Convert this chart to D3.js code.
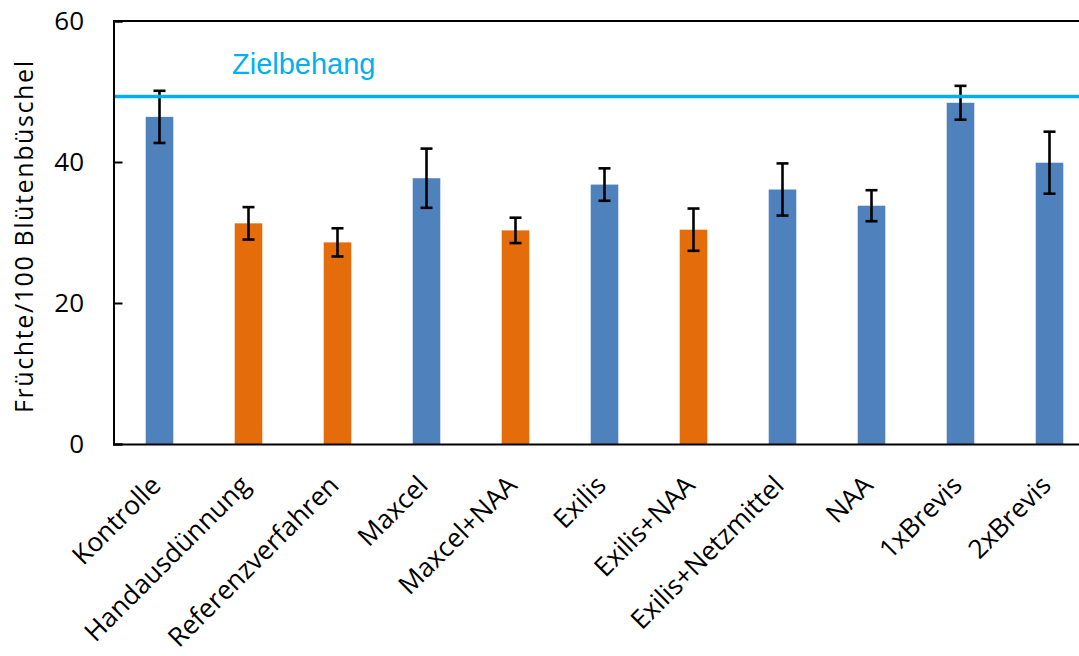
<!DOCTYPE html>
<html>
<head>
<meta charset="utf-8">
<script src="https://cdn.jsdelivr.net/npm/d3@7"></script>
<style>
body { margin: 0; background: #fff; }
</style>
</head>
<body>
<div id="chart"></div>
<script>
"use strict";

var categories = ["Kontrolle", "Handausdünnung", "Referenzverfahren", "Maxcel", "Maxcel+NAA",
	"Exilis", "Exilis+NAA", "Exilis+Netzmittel", "NAA", "1xBrevis", "2xBrevis"];
var means = [46.4, 31.3, 28.6, 37.7, 30.3, 36.8, 30.4, 36.1, 33.8, 48.4, 39.9];
var errors = [3.7, 2.3, 2.0, 4.2, 1.8, 2.3, 3.0, 3.7, 2.2, 2.4, 4.4];
var group = ["a", "b", "b", "a", "b", "a", "b", "a", "a", "a", "a"];
var yTicks = [0, 20, 40, 60];
var target = 49.3;
var targetLabel = "Zielbehang";
var yTitle = "Früchte/100 Blütenbüschel";

var width = 1079, height = 656;
var colors = { a: "#4f81bd", b: "#e46c0a" };

var svg = d3.select("#chart").append("svg")
	.attr("width", width)
	.attr("height", height);

var x = d3.scaleBand()
	.domain(categories)
	.range([115, 1094])
	.paddingInner(0.69)
	.paddingOuter(0.345);

var y = d3.scaleLinear()
	.domain([0, 60])
	.range([444, 21]);

var font = "'Open Sans', sans-serif";

// bars
svg.selectAll("rect.bar")
	.data(categories)
	.enter().append("rect")
	.attr("class", "bar")
	.attr("x", function(d) { return x(d); })
	.attr("width", x.bandwidth())
	.attr("y", function(d, i) { return y(means[i]); })
	.attr("height", function(d, i) { return y(0) - y(means[i]); })
	.attr("fill", function(d, i) { return colors[group[i]]; });

// error bars
var eb = svg.selectAll("g.err")
	.data(categories)
	.enter().append("g")
	.attr("class", "err")
	.attr("stroke", "#000")
	.attr("stroke-width", 2.6);
eb.append("line")
	.attr("x1", function(d) { return x(d) + x.bandwidth() / 2; })
	.attr("x2", function(d) { return x(d) + x.bandwidth() / 2; })
	.attr("y1", function(d, i) { return y(means[i] + errors[i]); })
	.attr("y2", function(d, i) { return y(means[i] - errors[i]); });
eb.selectAll("line.cap")
	.data(function(d, i) { return [[d, means[i] + errors[i]], [d, means[i] - errors[i]]]; })
	.enter().append("line")
	.attr("class", "cap")
	.attr("x1", function(d) { return x(d[0]) + x.bandwidth() / 2 - 6; })
	.attr("x2", function(d) { return x(d[0]) + x.bandwidth() / 2 + 6; })
	.attr("y1", function(d) { return y(d[1]); })
	.attr("y2", function(d) { return y(d[1]); });

// target line
svg.append("line")
	.attr("x1", 113)
	.attr("x2", width)
	.attr("y1", y(target))
	.attr("y2", y(target))
	.attr("stroke", "#00b0f0")
	.attr("stroke-width", 3.5);
svg.append("text")
	.attr("x", 232)
	.attr("y", 74)
	.attr("fill", "#00b0f0")
	.attr("font-family", "'Liberation Sans', Arial, sans-serif")
	.attr("font-size", 29)
	.text(targetLabel);

// frame: top line, left and bottom axes
svg.append("line")
	.attr("x1", 113).attr("x2", width)
	.attr("y1", y(60)).attr("y2", y(60))
	.attr("stroke", "#000").attr("stroke-width", 2);

var yAxis = svg.append("g")
	.attr("transform", "translate(113.5,0)")
	.call(d3.axisRight(y).tickValues(yTicks).tickSize(9).tickFormat(""));
yAxis.select(".domain").attr("stroke-width", 2);
yAxis.selectAll(".tick line").attr("stroke-width", 2);

svg.selectAll("text.ytick")
	.data(yTicks)
	.enter().append("text")
	.attr("class", "ytick")
	.attr("x", 84)
	.attr("y", function(d) { return y(d); })
	.attr("dy", "0.36em")
	.attr("text-anchor", "end")
	.attr("font-family", font)
	.attr("font-size", 26)
	.attr("fill", "#000")
	.text(function(d) { return d; });

var xAxis = svg.append("g")
	.attr("transform", "translate(0," + y(0) + ")")
	.call(d3.axisBottom(x).tickSize(0).tickFormat(""));
xAxis.select(".domain").attr("d", "M113," + 0.5 + "H" + width).attr("stroke-width", 2);

// category labels
svg.selectAll("text.xlab")
	.data(categories)
	.enter().append("text")
	.attr("class", "xlab")
	.attr("transform", function(d) {
		return "translate(" + (x(d) + x.bandwidth() / 2 + 3) + ",487) rotate(-45)";
	})
	.attr("text-anchor", "end")
	.attr("font-family", font)
	.attr("font-size", 26.3)
	.attr("fill", "#000")
	.text(function(d) { return d; });

// y title
svg.append("text")
	.attr("transform", "translate(33,237) rotate(-90)")
	.attr("text-anchor", "middle")
	.attr("font-family", font)
	.attr("font-size", 25)
	.attr("textLength", 352)
	.attr("lengthAdjust", "spacing")
	.attr("fill", "#000")
	.text(yTitle);
</script>
</body>
</html>
